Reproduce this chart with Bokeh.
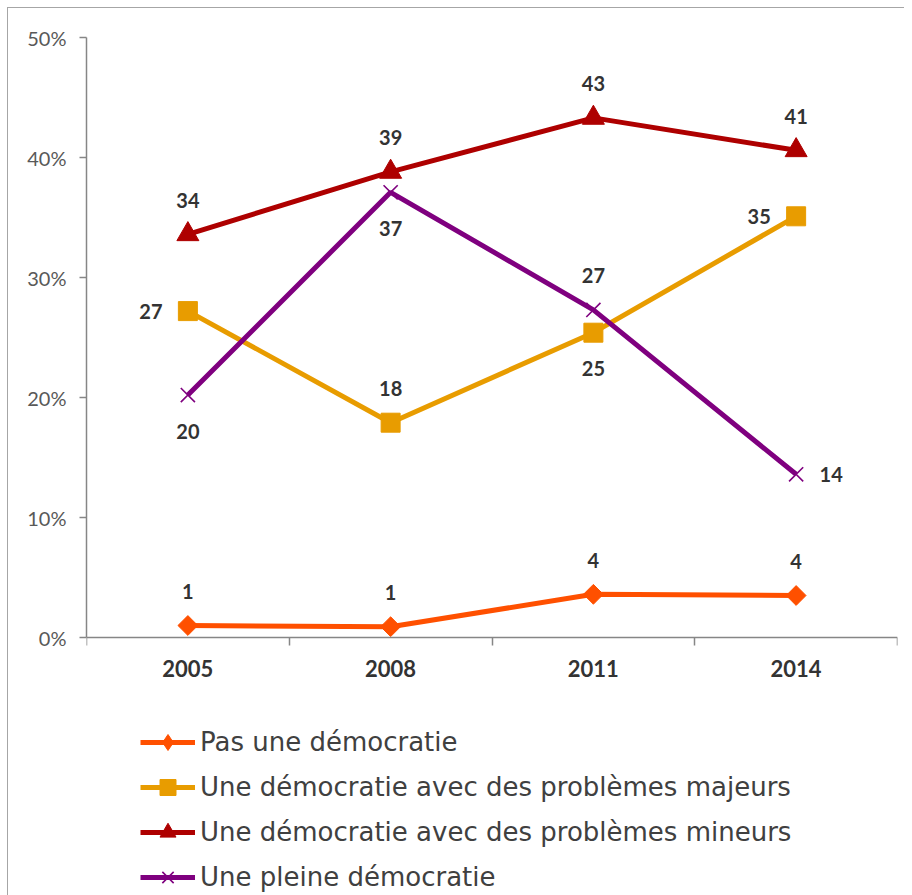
from bokeh.plotting import figure
from bokeh.models import (Range1d, FactorRange, LinearAxis, CategoricalAxis, FixedTicker,
                          PrintfTickFormatter, ColumnDataSource, Legend, LegendItem)
from bokeh.embed import file_html
from bokeh.resources import INLINE

years = ["2005", "2008", "2011", "2014"]
pas = [1.0, 0.9, 3.6, 3.5]
majeurs = [27.2, 17.9, 25.4, 35.1]
mineurs = [33.6, 38.8, 43.3, 40.6]
pleine = [20.2, 37.1, 27.3, 13.6]
names = ["Pas une démocratie",
         "Une démocratie avec des problèmes majeurs",
         "Une démocratie avec des problèmes mineurs",
         "Une pleine démocratie"]
y_ticks = [0, 10, 20, 30, 40, 50]

# label placement per point (style)
label_place = [
    ["above", "above", "above", "above"],
    ["left", "above", "below", "left"],
    ["above", "above", "above", "above"],
    ["below", "below", "above", "right"],
]
OFFS = {"above": (0, -34), "below": (0, 36), "left": (-37, 0), "right": (35, 0)}

colors = ["#FF5000", "#E89C00", "#AE0000", "#7F007F"]
# (plot marker, size, angle, legend marker)
markers = [("square", 14, 0.785398, "diamond"), ("square", 19, 0, None),
           ("triangle", 22, 0, None), ("x", 20, 0, None)]

# layout (pixels)
W, H = 904, 895
TOP, LEFT, RIGHT = 37, 86, 7
PLOT_H = 600            # pixel height of the 0..50 span
Y_MAX = y_ticks[-1]
y_min = -Y_MAX * (H - TOP - PLOT_H) / PLOT_H

p = figure(width=W, height=H, output_backend="svg", toolbar_location=None,
           x_range=FactorRange(factors=years), y_range=Range1d(y_min, Y_MAX),
           x_axis_location=None, y_axis_location=None,
           min_border_left=LEFT, min_border_right=RIGHT, min_border_top=TOP, min_border_bottom=0)
p.outline_line_color = None
p.xgrid.visible = False
p.ygrid.visible = False
p.background_fill_alpha = 0
p.border_fill_alpha = 0
p.styles = {"background": "white",
            "box-shadow": "inset 7px 7px 0 0 white, inset 8px 8px 0 0 #a6a6a6"}

axis_col = "#868686"
yax = LinearAxis(ticker=FixedTicker(ticks=y_ticks), formatter=PrintfTickFormatter(format="%d%%"),
                 bounds=(y_ticks[0], y_ticks[-1]))
yax.axis_line_color = axis_col
yax.axis_line_width = 1.5
yax.major_tick_line_color = axis_col
yax.major_tick_line_width = 1.5
yax.major_tick_in = 0
yax.major_tick_out = 7
yax.minor_tick_line_color = None
yax.major_label_standoff = 13
yax.major_label_text_font = "Lato"
yax.major_label_text_font_size = "20px"
yax.major_label_text_color = "#595959"
p.add_layout(yax, "left")

bounds = list(range(len(years) + 1))
xticks_ax = LinearAxis(ticker=FixedTicker(ticks=bounds), fixed_location=0)
xticks_ax.axis_line_color = axis_col
xticks_ax.axis_line_width = 1.5
xticks_ax.major_tick_line_color = axis_col
xticks_ax.major_tick_line_width = 1.5
xticks_ax.major_tick_in = 0
xticks_ax.major_tick_out = 8
xticks_ax.minor_tick_line_color = None
xticks_ax.major_label_overrides = {b: "" for b in bounds}
xticks_ax.major_label_text_color = None
p.add_layout(xticks_ax, "below")

xlab = CategoricalAxis(fixed_location=0)
xlab.axis_line_color = None
xlab.major_tick_line_color = None
xlab.major_tick_out = 0
xlab.major_tick_in = 0
xlab.major_label_standoff = 22
xlab.major_label_text_font = "Lato"
xlab.major_label_text_font_style = "bold"
xlab.major_label_text_font_size = "22px"
xlab.major_label_text_color = "#333333"
p.add_layout(xlab, "below")

items = []
for vals, col, (mk, sz, ang, leg_mk), name, places in zip(
        [pas, majeurs, mineurs, pleine], colors, markers, names, label_place):
    src = ColumnDataSource(dict(
        x=years, y=vals,
        lab=[str(int(v + 0.5)) for v in vals],
        xo=[OFFS[pl][0] for pl in places],
        yo=[OFFS[pl][1] for pl in places]))
    ln = p.line("x", "y", source=src, line_color=col, line_width=5)
    if mk == "x":
        sc = p.scatter("x", "y", source=src, marker=mk, size=sz, line_color=col, line_width=1.6)
    else:
        sc = p.scatter("x", "y", source=src, marker=mk, size=sz, angle=ang,
                       fill_color=col, line_color=col)
    p.text("x", "y", text="lab", source=src, x_offset="xo", y_offset="yo",
           text_align="center", text_baseline="middle", text_font_size="20px",
           text_font_style="bold", text_color="#333333", text_font={"value": "Lato"})
    leg_sc = sc
    if leg_mk is not None:
        # legend-only swatch: one point with no y value, so nothing is drawn on the plot
        leg_sc = p.scatter(x=years[:1], y=[float("nan")], marker=leg_mk, size=sz,
                           fill_color=col, line_color=col)
    items.append(LegendItem(label=name, renderers=[ln, leg_sc]))

legend = Legend(items=items, location=(54, -2), orientation="vertical")
legend.glyph_width = 55
legend.glyph_height = 40
legend.label_height = 24
legend.label_standoff = 5
legend.spacing = 5
legend.padding = 0
legend.margin = 0
legend.border_line_color = None
legend.background_fill_alpha = 0
legend.label_text_font = "DejaVu Sans"
legend.label_text_font_size = "26px"
legend.label_text_color = "#404040"
p.add_layout(legend, "center")

open("out.html", "w").write(file_html(p, INLINE))
